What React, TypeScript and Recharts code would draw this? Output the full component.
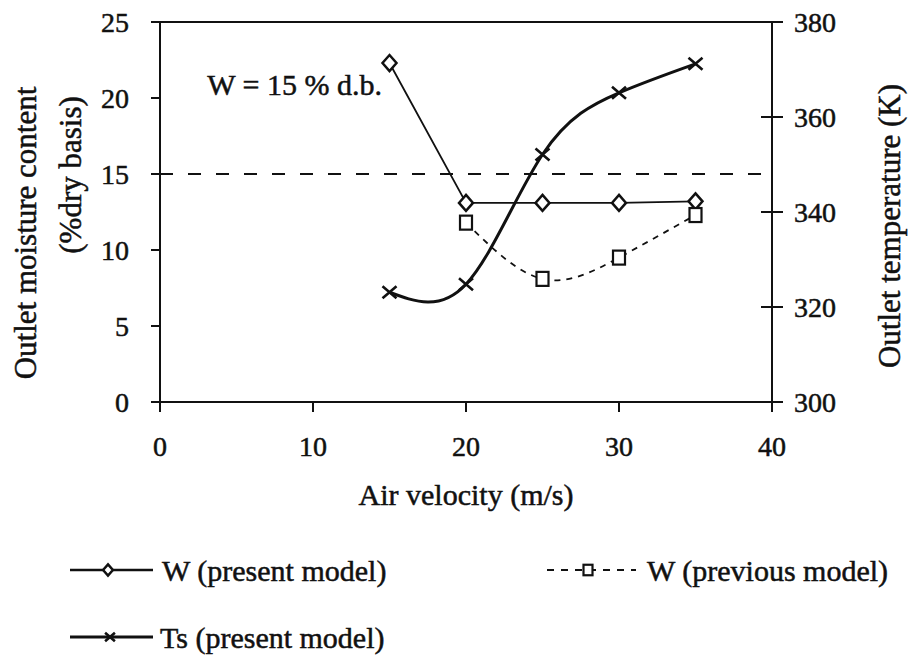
import React from "react";
import {
  Legend,
  Line,
  LineChart,
  ReferenceDot,
  ReferenceLine,
  XAxis,
  YAxis,
} from "recharts";

// values
const velocity = [15, 20, 25, 30, 35];
const wPresent = [22.3, 13.1, 13.1, 13.1, 13.2];
const wPrevious = [null, 11.8, 8.1, 9.5, 12.3];
const tsPresent = [323.1, 324.8, 352.1, 365.1, 371.2];

const xTicks = [0, 10, 20, 30, 40];
const moistureTicks = [0, 5, 10, 15, 20, 25];
const tempTicks = [300, 320, 340, 360, 380];

const targetMoisture = 15;
const noteText = "W = 15 % d.b.";
const notePos = { x: 8.8, y: 20.9 };

const seriesNames = {
  wPresent: "W (present model)",
  wPrevious: "W (previous model)",
  ts: "Ts (present model)",
};

const rows = velocity.map((v, i) => ({
  v,
  wPresent: wPresent[i],
  wPrevious: wPrevious[i],
  ts: tsPresent[i],
}));

const FONT = '"Liberation Serif", "Times New Roman", serif';
const INK = "#111";
// the scan is heavy, thicken glyphs a little
const textInk = { fill: INK, stroke: INK, strokeWidth: 0.5 };

function Diamond({ cx, cy, s = 1 }: any) {
  if (cx == null || cy == null) return null;
  const w = 7 * s;
  const h = 8 * s;
  return (
    <path
      d={`M${cx},${cy - h} L${cx + w},${cy} L${cx},${cy + h} L${cx - w},${cy} Z`}
      fill="#fff"
      stroke={INK}
      strokeWidth={2.5}
    />
  );
}

function Square({ cx, cy, s = 1 }: any) {
  if (cx == null || cy == null) return null;
  const w = 6 * s;
  const h = 7 * s;
  return <rect x={cx - w} y={cy - h} width={2 * w} height={2 * h} fill="#fff" stroke={INK} strokeWidth={2.2} />;
}

function Cross({ cx, cy, s = 1 }: any) {
  if (cx == null || cy == null) return null;
  const w = 7 * s;
  const h = 6 * s;
  return (
    <path
      d={`M${cx - w},${cy - h} L${cx + w},${cy + h} M${cx - w},${cy + h} L${cx + w},${cy - h}`}
      stroke={INK}
      strokeWidth={2.6}
      fill="none"
    />
  );
}

function RightTick({ x, y, payload }: any) {
  // x is where the label starts; the axis sits tickSize + tickMargin to the left
  const ax = x - 22;
  return (
    <g>
      <line x1={ax - 11} x2={ax + 11} y1={y} y2={y} stroke={INK} strokeWidth={2} />
      <text x={x} y={y} dy="0.35em" textAnchor="start" fontFamily={FONT} fontSize={28} {...textInk}>
        {payload.value}
      </text>
    </g>
  );
}

function LeftTitle({ viewBox }: any) {
  const x = viewBox?.x ?? 0;
  const y = viewBox?.y ?? 22;
  const a = { cx: x + 25, cy: y + 211 };
  const b = { cx: x + 70, cy: y + 153 };
  return (
    <g fontFamily={FONT} fontSize={31} {...textInk}>
      <text x={a.cx} y={a.cy} textAnchor="middle" dominantBaseline="central" transform={`rotate(-90 ${a.cx} ${a.cy})`}>
        Outlet moisture content
      </text>
      <text x={b.cx} y={b.cy} textAnchor="middle" dominantBaseline="central" transform={`rotate(-90 ${b.cx} ${b.cy})`}>
        (%dry basis)
      </text>
    </g>
  );
}

function RightTitle({ viewBox }: any) {
  const x = (viewBox?.x ?? 772) + 117;
  const y = (viewBox?.y ?? 22) + 204;
  return (
    <text
      x={x}
      y={y}
      textAnchor="middle"
      dominantBaseline="central"
      transform={`rotate(-90 ${x} ${y})`}
      fontFamily={FONT}
      fontSize={31}
      {...textInk}
    >
      Outlet temperature (K)
    </text>
  );
}

function XTitle({ viewBox }: any) {
  const x = (viewBox?.x ?? 160) + (viewBox?.width ?? 612) / 2;
  const y = (viewBox?.y ?? 402) + 92;
  return (
    <text x={x} y={y} textAnchor="middle" dominantBaseline="central" fontFamily={FONT} fontSize={30} {...textInk}>
      Air velocity (m/s)
    </text>
  );
}

// legend slots: [line start, marker x, line end, text x, row y]
const legendSlots: Record<string, number[]> = {
  wPresent: [70, 108, 153, 162, 40],
  wPrevious: [547, 588, 636, 647, 40],
  ts: [70, 110, 153, 160, 107],
};

function LegendBlock({ payload }: any) {
  return (
    <svg width={908} height={129}>
      {(payload || []).map((e: any) => {
        const slot = legendSlots[e.dataKey];
        if (!slot) return null;
        const [x0, mx, x1, tx, y] = slot;
        const dashed = e.dataKey === "wPrevious";
        return (
          <g key={e.dataKey}>
            <line
              x1={x0}
              x2={x1}
              y1={y}
              y2={y}
              stroke={INK}
              strokeWidth={dashed ? 2.2 : e.dataKey === "ts" ? 3 : 2.4}
              strokeDasharray={dashed ? "7 7" : undefined}
            />
            {e.dataKey === "wPresent" && <Diamond cx={mx} cy={y} s={0.7} />}
            {e.dataKey === "wPrevious" && <Square cx={mx} cy={y} s={0.75} />}
            {e.dataKey === "ts" && <Cross cx={mx} cy={y} s={0.7} />}
            <text x={tx} y={y} dominantBaseline="central" fontFamily={FONT} fontSize={30} {...textInk}>
              {e.value}
            </text>
          </g>
        );
      })}
    </svg>
  );
}

export default function App() {
  const tickStyle = { fontFamily: FONT, fontSize: 28, ...textInk };
  return (
    <div style={{ position: "absolute", left: 0, top: 0, width: 908, height: 659, background: "#fff" }}>
      <LineChart width={908} height={659} data={rows} margin={{ top: 22, right: 0, left: 0, bottom: 147 }}>
        <XAxis
          dataKey="v"
          type="number"
          domain={[0, 40]}
          ticks={xTicks}
          tick={tickStyle}
          tickSize={10}
          tickMargin={24}
          height={110}
          axisLine={{ stroke: INK, strokeWidth: 2 }}
          tickLine={{ stroke: INK, strokeWidth: 2 }}
          label={<XTitle />}
        />
        <YAxis
          yAxisId="left"
          domain={[0, 25]}
          ticks={moistureTicks}
          tick={tickStyle}
          tickSize={9}
          tickMargin={22}
          width={160}
          axisLine={{ stroke: INK, strokeWidth: 2 }}
          tickLine={{ stroke: INK, strokeWidth: 2 }}
          label={<LeftTitle />}
        />
        <YAxis
          yAxisId="right"
          orientation="right"
          domain={[300, 380]}
          ticks={tempTicks}
          tick={<RightTick />}
          tickSize={10}
          tickMargin={12}
          width={136}
          axisLine={{ stroke: INK, strokeWidth: 2 }}
          tickLine={false}
          label={<RightTitle />}
        />
        <ReferenceLine yAxisId="left" y={25} stroke={INK} strokeWidth={2} />
        <ReferenceLine yAxisId="left" y={targetMoisture} stroke={INK} strokeWidth={1.8} strokeDasharray="13 15" />
        <ReferenceDot
          yAxisId="left"
          x={notePos.x}
          y={notePos.y}
          r={0}
          fill="none"
          stroke="none"
          label={{ value: noteText, position: "center", fontFamily: FONT, fontSize: 30, ...textInk }}
        />
        <Line
          yAxisId="left"
          dataKey="wPresent"
          name={seriesNames.wPresent}
          type="linear"
          stroke={INK}
          strokeWidth={1.8}
          dot={<Diamond />}
          isAnimationActive={false}
        />
        <Line
          yAxisId="left"
          dataKey="wPrevious"
          name={seriesNames.wPrevious}
          type="natural"
          stroke={INK}
          strokeWidth={1.8}
          strokeDasharray="6 6"
          dot={<Square />}
          isAnimationActive={false}
        />
        <Line
          yAxisId="right"
          dataKey="ts"
          name={seriesNames.ts}
          type="natural"
          stroke={INK}
          strokeWidth={3}
          dot={<Cross />}
          isAnimationActive={false}
        />
        <Legend
          layout="horizontal"
          verticalAlign="middle"
          align="center"
          wrapperStyle={{ position: "absolute", top: 530, left: 0, width: 908, height: 129 }}
          content={<LegendBlock />}
        />
      </LineChart>
    </div>
  );
}
